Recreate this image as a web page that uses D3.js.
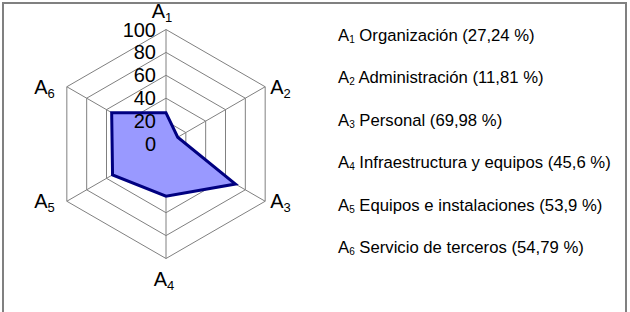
<!DOCTYPE html>
<html>
<head>
<meta charset="utf-8">
<script src="https://cdn.jsdelivr.net/npm/d3@7"></script>
<style>
  body { margin: 0; background: #fff; }
  svg { font-family: "Liberation Sans", Arial, sans-serif; }
</style>
</head>
<body>
<svg id="chart" width="630" height="312"></svg>
<script>
var axes = ['1', '2', '3', '4', '5', '6'];
var names = ['Organización', 'Administración', 'Personal',
    'Infraestructura y equipos', 'Equipos e instalaciones', 'Servicio de terceros'];
var values = [27.24, 11.81, 69.98, 45.6, 53.9, 54.79];
var valueLabels = ['27,24', '11,81', '69,98', '45,6', '53,9', '54,79'];
var ticks = [0, 20, 40, 60, 80, 100];

var cx = 166, cy = 144, radius = 114.5;
var svg = d3.select('#chart');

// frame
svg.append('path')
    .attr('d', 'M3,320V3H626V320')
    .attr('fill', 'none')
    .attr('stroke', '#808080')
    .attr('stroke-width', 2);

var r = d3.scaleLinear().domain([0, 100]).range([0, radius]);
var angle = d3.scaleLinear().domain([0, axes.length]).range([0, 2 * Math.PI]);

function point(i, v) {
    var a = angle(i) - Math.PI / 2;
    return [cx + r(v) * Math.cos(a), cy + r(v) * Math.sin(a)];
}

var g = svg.append('g');
var line = d3.line().curve(d3.curveLinearClosed);

// rings
ticks.slice(1).forEach(function (t) {
    g.append('path')
        .attr('d', line(axes.map((d, i) => point(i, t))))
        .attr('fill', 'none')
        .attr('stroke', '#808080')
        .attr('stroke-width', 1);
});
// spokes
axes.forEach(function (d, i) {
    var p = point(i, 100);
    g.append('line')
        .attr('x1', cx).attr('y1', cy)
        .attr('x2', p[0]).attr('y2', p[1])
        .attr('stroke', '#808080')
        .attr('stroke-width', 1);
});

// data
g.append('path')
    .attr('d', line(values.map((v, i) => point(i, v))))
    .attr('fill', '#9999ff')
    .attr('stroke', '#000080')
    .attr('stroke-width', 3)
    .attr('stroke-linejoin', 'miter');

// tick labels
g.selectAll('text.tick').data(ticks).enter()
    .append('text')
    .attr('class', 'tick')
    .attr('x', cx - 10)
    .attr('y', d => cy - r(d))
    .attr('dy', '0.35em')
    .attr('text-anchor', 'end')
    .attr('font-size', 20)
    .text(d => d);

// axis labels: placed beside each outer vertex
axes.forEach(function (d, i) {
    var p = point(i, 100);
    var x = p[0], y = p[1], anchor = 'middle';
    if (i === 0) { x -= 4; y -= 19; }
    else if (i === 3) { x -= 2; y += 20; }
    else if (i < 3) { x += 5; anchor = 'start'; }
    else { x -= 12; anchor = 'end'; }
    var t = g.append('text')
        .attr('x', x)
        .attr('y', y)
        .attr('dy', '0.35em')
        .attr('text-anchor', anchor)
        .attr('font-size', 20);
    t.append('tspan').text('A');
    t.append('tspan').attr('font-size', 13).attr('dy', 4).text(d);
});

// legend
var legend = svg.append('g').attr('transform', 'translate(338,0)');
var legendY = d3.scalePoint().domain(axes).range([41, 253]);
axes.forEach(function (d, i) {
    var t = legend.append('text')
        .attr('x', 0)
        .attr('y', legendY(d))
        .attr('font-size', 16.7);
    t.append('tspan').text('A');
    t.append('tspan').attr('font-size', 10).attr('dy', 2).text(d);
    t.append('tspan').attr('dy', -2).text(' ' + names[i] + ' (' + valueLabels[i] + ' %)');
});
</script>
</body>
</html>
